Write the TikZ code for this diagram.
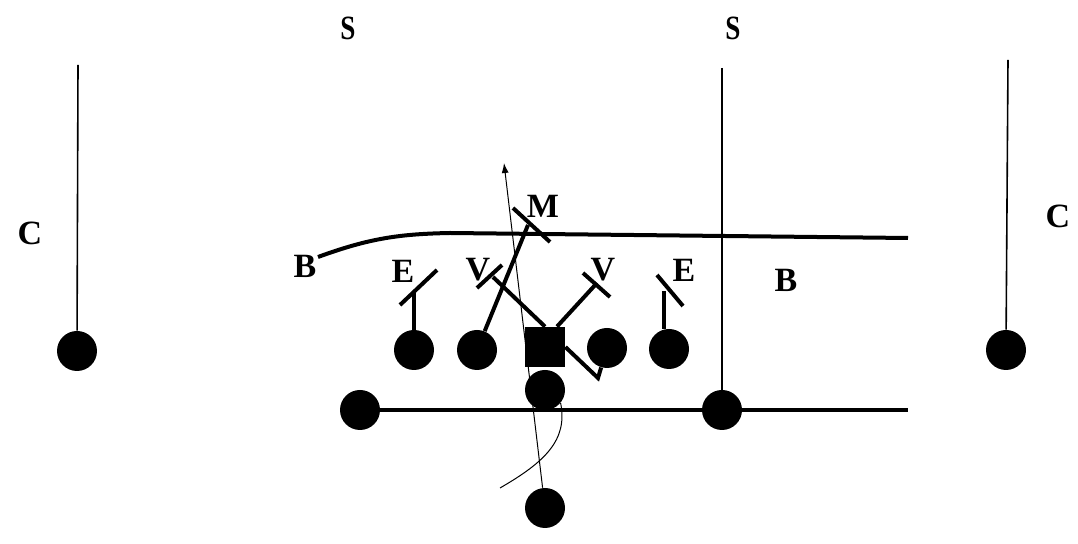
\documentclass[tikz,border=0pt]{standalone}
\usepackage{fontspec}
\setmainfont{Liberation Serif}
\usetikzlibrary{arrows.meta}
\begin{document}
\begin{tikzpicture}[x=0.5pt,y=-0.5pt,
    player/.style={circle,fill,inner sep=0pt,minimum size=20pt},
    snapper/.style={rectangle,fill,inner sep=0pt,minimum size=20pt},
    lbl/.style={font=\fontsize{17}{17}\selectfont\bfseries,inner sep=0pt},
    lane/.style={line width=0.8pt},
    route/.style={line width=2pt},
    path line/.style={line width=0.5pt}]
  \useasboundingbox (0,0) rectangle (1078,544);
  % labels
  \node[lbl,xscale=0.8] (S1) at (348,28) {S};
  \node[lbl,xscale=0.8] (S2) at (733,28) {S};
  \node[lbl] (C1) at (30,233) {C};
  \node[lbl] (C2) at (1058,216) {C};
  \node[lbl] (B1) at (305,266) {B};
  \node[lbl] (B2) at (786,280) {B};
  \node[lbl] (E1) at (403,271) {E};
  \node[lbl] (E2) at (684,270) {E};
  \node[lbl] (V1) at (478,270) {V};
  \node[lbl] (V2) at (603,270) {V};
  \node[lbl] (M) at (543,206) {M};
  % players
  \node[player] (CL) at (77,351) {};
  \node[player] (CR) at (1006,350) {};
  \node[player] (EL) at (414,350) {};
  \node[player] (TL) at (477,350) {};
  \node[snapper] (N) at (545,347) {};
  \node[player] (TR) at (607,348) {};
  \node[player] (ER) at (669,349) {};
  \node[player] (Q) at (545,390) {};
  \node[player] (WL) at (360,410) {};
  \node[player] (WR) at (722,410) {};
  \node[player] (F) at (545,508) {};
  % deep lanes
  \coordinate (cltop) at (78,65);
  \coordinate (crtop) at (1008,60);
  \coordinate (srtop) at (722,68);
  \draw[lane] (cltop) -- (CL);
  \draw[lane] (crtop) -- (CR);
  \draw[lane] (srtop) -- (WR);
  % lines
  \coordinate (baseend) at (908,410);
  \draw[route] (WL) -- (WR) -- (baseend);
  \coordinate (bstart) at (318,257);
  \coordinate (bend) at (908,238);
  \draw[route] (bstart) .. controls (370,238) and (400,234) .. (450,233) -- (bend);
  % blocks
  \coordinate (elb) at (414,292);
  \draw[route] (EL) -- (elb);
  \draw[route] (400,305) -- (437,270);
  \coordinate (vlb) at (493,277);
  \draw[route] (N.north) -- (vlb);
  \draw[route] (477,288) -- (502,265);
  \coordinate (vrb) at (597,283);
  \draw[route] ([xshift=6pt]N.north) -- (vrb);
  \draw[route] (583,273) -- (610,297);
  \coordinate (erb) at (664,291);
  \draw[route] ([xshift=-2.5pt]ER.north) -- (erb);
  \draw[route] (657,275) -- (683,306);
  \coordinate (mb) at (528,225);
  \draw[route] (TL) -- (mb);
  \draw[route] (513,208) -- (550,242);
  \coordinate (trj) at (598,378);
  \draw[route] (N.east) -- (trj) -- (TR);
  % backfield paths
  \coordinate (ftip) at (504,163);
  \draw[path line,-{Latex[length=5pt,width=3.5pt]}] (F) -- (ftip);
  \coordinate (fake) at (500,488);
  \draw[path line] (fake) .. controls (545,462) and (568,440) .. (Q.-40);
\end{tikzpicture}
\end{document}
